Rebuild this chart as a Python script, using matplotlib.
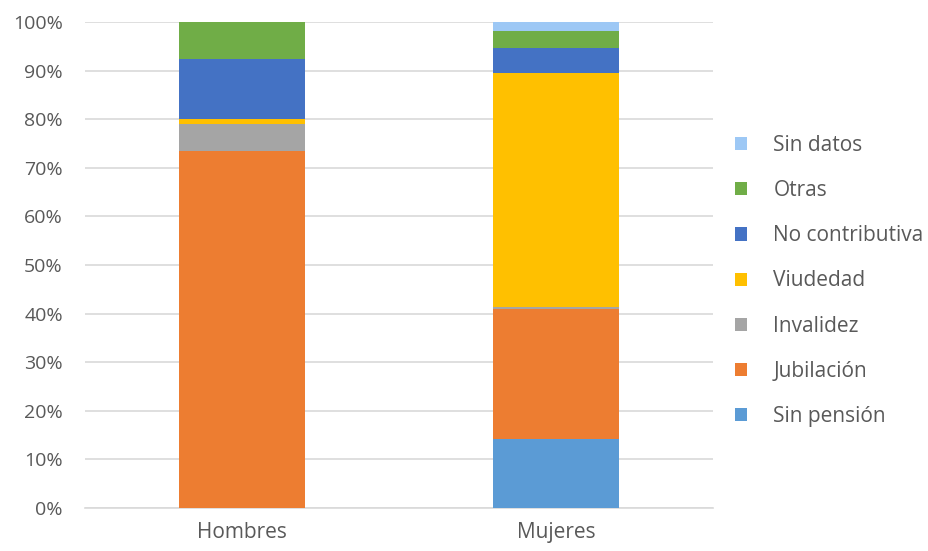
import matplotlib
matplotlib.use("Agg")
import matplotlib.pyplot as plt
from matplotlib.ticker import FuncFormatter
import numpy as np

categories = ["Hombres", "Mujeres"]
series_names = ["Sin pensión", "Jubilación", "Invalidez", "Viudedad",
                "No contributiva", "Otras", "Sin datos"]
sin_pension = [0.0, 14.1]
jubilacion = [73.5, 26.8]
invalidez = [5.6, 0.5]
viudedad = [1.0, 48.2]
no_contributiva = [12.2, 5.1]
otras = [7.7, 3.4]
sin_datos = [0.0, 1.9]

series_values = [sin_pension, jubilacion, invalidez, viudedad,
                 no_contributiva, otras, sin_datos]
colors = ["#5b9bd5", "#ed7d31", "#a5a5a5", "#ffc000",
          "#4472c4", "#70ad47", "#9dc8f5"]

plt.rcParams['font.family'] = ['Open Sans', 'DejaVu Sans']

fig = plt.figure(figsize=(9.29, 5.51), dpi=100)
ax = fig.add_axes([85 / 929, 1 - 508 / 551, 628 / 929, 486 / 551])

x = np.arange(len(categories))
bottom = np.zeros(len(categories))
handles = []
for name, vals, col in zip(series_names, series_values, colors):
    vals = np.array(vals)
    h = ax.bar(x, vals, width=0.4, bottom=bottom, color=col, label=name,
               zorder=3)
    handles.append(h)
    bottom += vals

ax.set_xlim(-0.5, 1.5)
ax.set_ylim(0, 100)
ax.set_yticks(np.arange(0, 101, 10))
ax.yaxis.set_major_formatter(FuncFormatter(lambda v, p: f"{v:.0f}%"))
ax.set_xticks(x)
ax.set_xticklabels(categories)
ax.grid(axis='y', color='#d9d9d9', linewidth=1.2, zorder=0)
for s in ["top", "right", "left"]:
    ax.spines[s].set_visible(False)
ax.spines["bottom"].set_color('#d9d9d9')
ax.spines["bottom"].set_linewidth(1.2)
ax.tick_params(axis='both', length=0, colors='#595959')
ax.tick_params(axis='y', pad=16, labelsize=14)
ax.tick_params(axis='x', pad=10, labelsize=15)

leg = fig.legend(handles[::-1], series_names[::-1], loc='center left',
                 bbox_to_anchor=(716 / 929, 1 - 281 / 551), frameon=False,
                 fontsize=15, labelspacing=1.16, handlelength=0.6,
                 handleheight=0.6, handletextpad=1.25)
for t in leg.get_texts():
    t.set_color('#595959')

fig.savefig("out.png", dpi=100)
